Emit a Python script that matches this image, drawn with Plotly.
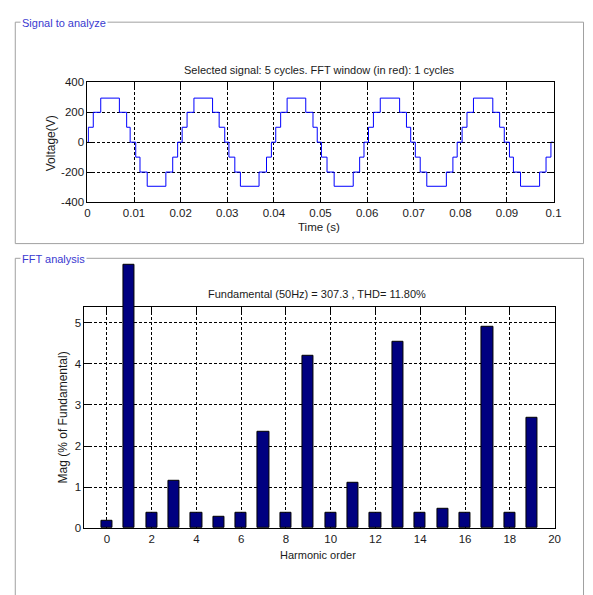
import plotly.graph_objects as go

W, H = 593, 595

# ---------------- Data ----------------
# Staircase waveform: switching instants (s) and level held after each instant (V)
switch_times = [
    0.0, 0.0002, 0.00126, 0.00286, 0.00686, 0.00842, 0.00917, 0.01037, 0.01128, 0.01283, 0.01683, 0.0183, 0.01936,
    0.02032, 0.02138, 0.02285, 0.02685, 0.02826, 0.02946, 0.03036, 0.03162, 0.03282, 0.03682, 0.03842, 0.03947,
    0.0404, 0.04145, 0.04284, 0.04684, 0.04839, 0.0493, 0.0502, 0.0514, 0.05293, 0.05702, 0.0584, 0.05933,
    0.0603, 0.06135, 0.06282, 0.06697, 0.06844, 0.06935, 0.07034, 0.07139, 0.0728, 0.077, 0.0784, 0.07932,
    0.08037, 0.08142, 0.08281, 0.08696, 0.08843, 0.08942, 0.09053, 0.09138, 0.09291, 0.097, 0.09838, 0.09943,
    0.1,
]
levels = [
    0, 100, 200, 295, 200, 100, 0, -100, -200, -295, -200, -100, 0,
    100, 200, 295, 200, 100, 0, -100, -200, -295, -200, -100, 0,
    100, 200, 295, 200, 100, 0, -100, -200, -295, -200, -100, 0,
    100, 200, 295, 200, 100, 0, -100, -200, -295, -200, -100, 0,
    100, 200, 295, 200, 100, 0, -100, -200, -295, -200, -100, 0,
    0,
]

time_ticks = [0, 0.01, 0.02, 0.03, 0.04, 0.05, 0.06, 0.07, 0.08, 0.09, 0.1]
time_tick_labels = ["0", "0.01", "0.02", "0.03", "0.04", "0.05", "0.06", "0.07", "0.08", "0.09", "0.1"]
volt_ticks = [-400, -200, 0, 200, 400]
volt_tick_labels = ["-400", "-200", "0", "200", "400"]

harmonic_order = list(range(0, 20))
harmonic_mag = [0.17, 6.41, 0.365, 1.145, 0.365, 0.27, 0.365, 2.345, 0.365, 4.205,
                0.365, 1.105, 0.365, 4.54, 0.365, 0.47, 0.365, 4.905, 0.365, 2.68]

harm_ticks = [0, 2, 4, 6, 8, 10, 12, 14, 16, 18, 20]
harm_tick_labels = ["0", "2", "4", "6", "8", "10", "12", "14", "16", "18", "20"]
mag_ticks = [0, 1, 2, 3, 4, 5]
mag_tick_labels = ["0", "1", "2", "3", "4", "5"]

title_top = "Selected signal: 5 cycles. FFT window (in red): 1 cycles"
title_bottom = "Fundamental (50Hz) = 307.3 , THD= 11.80%"

# ---------------- Helpers ----------------
def px(x):
    return x / W

def py(y):
    return 1 - y / H

FONT = "Liberation Sans, Arial, sans-serif"
TXT = "#1a1a1a"

# bottom axes geometry (pixels)
B_TOP, B_BOT = 307.7, 533.0
B_YMAX = 5.37
BAR_TOP = 258.0  # taller (invisible) axes for bars so the fundamental bar is not clipped
bar_ymax = B_YMAX * (B_BOT - BAR_TOP) / (B_BOT - B_TOP)

fig = go.Figure()

fig.add_trace(go.Scatter(
    x=switch_times, y=levels, mode="lines", line=dict(color="#0000ff", width=1, shape="hv"),
    xaxis="x", yaxis="y", showlegend=False, hoverinfo="skip"))

# empty trace so that the visible spectrum axes are drawn
fig.add_trace(go.Scatter(x=[None], y=[None], mode="lines", xaxis="x2", yaxis="y2",
                         showlegend=False, hoverinfo="skip"))

fig.add_trace(go.Bar(
    x=harmonic_order, y=harmonic_mag, width=0.5,
    marker=dict(color="#000080", line=dict(color="black", width=1)),
    xaxis="x3", yaxis="y3", showlegend=False))

axis_common = dict(
    showline=True, linecolor="black", linewidth=1, mirror="ticks",
    ticks="inside", ticklen=5, tickcolor="black",
    showgrid=True, gridcolor="black", gridwidth=1, griddash="3px,2px",
    zeroline=False, tickfont=dict(family=FONT, size=11.5, color=TXT),
    fixedrange=True,
)

fig.update_layout(
    width=W, height=H,
    margin=dict(l=0, r=0, t=0, b=0),
    paper_bgcolor="white", plot_bgcolor="rgba(0,0,0,0)",
    font=dict(family=FONT, size=11, color=TXT),
    bargap=0,
    xaxis=dict(domain=[px(86), px(561)], range=[0, 0.1], tickvals=time_ticks, ticktext=time_tick_labels,
               anchor="y", **axis_common),
    yaxis=dict(domain=[py(200), py(78)], range=[-400, 400], tickvals=volt_ticks, ticktext=volt_tick_labels,
               anchor="x", **axis_common),
    xaxis2=dict(domain=[px(83), px(562)], range=[-1, 20], tickvals=harm_ticks, ticktext=harm_tick_labels,
                anchor="y2", **axis_common),
    yaxis2=dict(domain=[py(B_BOT), py(B_TOP)], range=[0, B_YMAX], tickvals=mag_ticks, ticktext=mag_tick_labels,
                anchor="x2", **axis_common),
    xaxis3=dict(domain=[px(83), px(562)], range=[-1, 20], visible=False, anchor="y3", fixedrange=True),
    yaxis3=dict(domain=[py(B_BOT), py(BAR_TOP)], range=[0, bar_ymax], visible=False, anchor="x3",
                fixedrange=True),
)

# group-box frames
frame = dict(type="rect", xref="paper", yref="paper", line=dict(color="#a0a0a0", width=1), fillcolor="rgba(0,0,0,0)",
             layer="below")
fig.add_shape(x0=px(12.5), x1=px(591.5), y0=py(242.5), y1=py(16.5), **frame)
fig.add_shape(x0=px(12.5), x1=px(591.5), y0=py(640), y1=py(257.5), **frame)

ann = []
# frame titles
ann.append(dict(text="Signal to analyze", x=px(17.5), y=py(17), xanchor="left", yanchor="middle",
                font=dict(family=FONT, size=11, color="#3a3ad0"), bgcolor="white", borderpad=1))
ann.append(dict(text="FFT analysis", x=px(17.5), y=py(258), xanchor="left", yanchor="middle",
                font=dict(family=FONT, size=11, color="#3a3ad0"), bgcolor="white", borderpad=1))
# plot titles
ann.append(dict(text=title_top, x=px(322), y=py(65), xanchor="center", yanchor="middle",
                font=dict(family=FONT, size=11, color=TXT)))
ann.append(dict(text=title_bottom, x=px(320), y=py(293.5), xanchor="center", yanchor="middle",
                font=dict(family=FONT, size=11, color=TXT)))
# axis titles
ann.append(dict(text="Time (s)", x=px(322), y=py(226), xanchor="center", yanchor="middle",
                font=dict(family=FONT, size=11.5, color=TXT)))
ann.append(dict(text="Harmonic order", x=px(321), y=py(560), xanchor="center", yanchor="middle",
                font=dict(family=FONT, size=11, color=TXT)))
ann.append(dict(text="Voltage(V)", x=px(49), y=py(140), xanchor="center", yanchor="middle", textangle=-90,
                font=dict(family=FONT, size=12, color=TXT)))
ann.append(dict(text="Mag (% of Fundamental)", x=px(61), y=py(420), xanchor="center", yanchor="middle",
                textangle=-90, font=dict(family=FONT, size=12, color=TXT)))
for a in ann:
    a.update(xref="paper", yref="paper", showarrow=False)
fig.update_layout(annotations=ann)

fig.write_html("out.html")
